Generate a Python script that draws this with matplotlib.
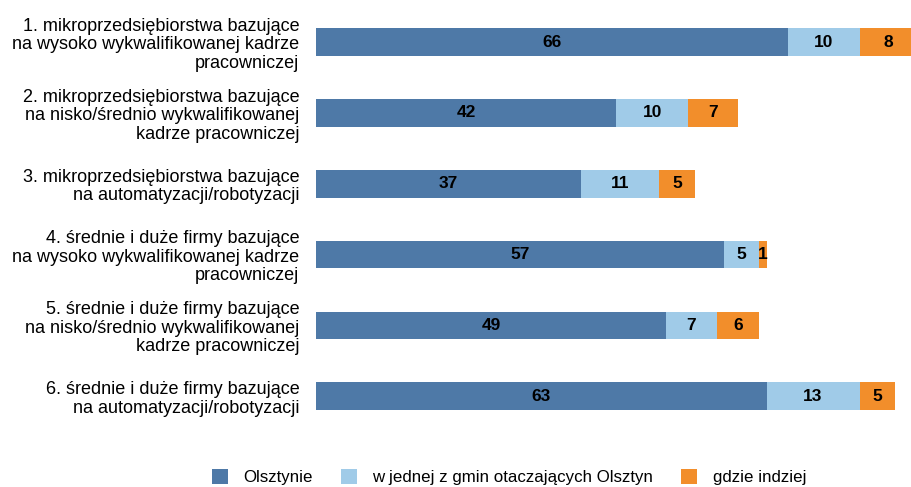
import numpy as np
import matplotlib.pyplot as plt

plt.rcParams['font.family'] = ['Liberation Sans', 'DejaVu Sans']

kategorie = [
    "1. mikroprzedsiębiorstwa bazujące\nna wysoko wykwalifikowanej kadrze\npracowniczej",
    "2. mikroprzedsiębiorstwa bazujące\nna nisko/średnio wykwalifikowanej\nkadrze pracowniczej",
    "3. mikroprzedsiębiorstwa bazujące\nna automatyzacji/robotyzacji",
    "4. średnie i duże firmy bazujące\nna wysoko wykwalifikowanej kadrze\npracowniczej",
    "5. średnie i duże firmy bazujące\nna nisko/średnio wykwalifikowanej\nkadrze pracowniczej",
    "6. średnie i duże firmy bazujące\nna automatyzacji/robotyzacji",
]
olsztyn = [66, 42, 37, 57, 49, 63]
gminy = [10, 10, 11, 5, 7, 13]
indziej = [8, 7, 5, 1, 6, 5]

serie = ["Olsztynie", "w jednej z gmin otaczających Olsztyn", "gdzie indziej"]
kolory = ["#4e79a7", "#a0cbe8", "#f28e2b"]

fig = plt.figure(figsize=(9.11, 4.87), dpi=100)
ax = fig.add_axes([0.347, 0.114, 0.653, 0.872])

y = np.arange(len(kategorie))
left = np.zeros(len(kategorie))
for vals, kolor, nazwa in zip([olsztyn, gminy, indziej], kolory, serie):
    vals = np.array(vals)
    ax.barh(y, vals, left=left, height=0.39, color=kolor, label=nazwa)
    for xi, yi, v in zip(left, y, vals):
        ax.text(xi + v / 2, yi, str(v), ha="center", va="center",
                fontsize=12.5, fontweight="bold", color="black")
    left = left + vals

ax.set_xlim(0, 83.2)
ax.set_ylim(len(kategorie) - 0.5, -0.5)
ax.set_yticks(y)
ax.set_yticklabels(kategorie, fontsize=13.0, ha="right", linespacing=1.12)
ax.tick_params(axis="y", length=0, pad=12)
ax.set_xticks([])
for s in ax.spines.values():
    s.set_visible(False)

fig.legend(loc="center", bbox_to_anchor=(0.559, 0.02), ncol=3, frameon=False,
           fontsize=12.2, handlelength=0.95, handleheight=0.95,
           handletextpad=0.9, columnspacing=1.65)

plt.savefig("out.png", dpi=100)
